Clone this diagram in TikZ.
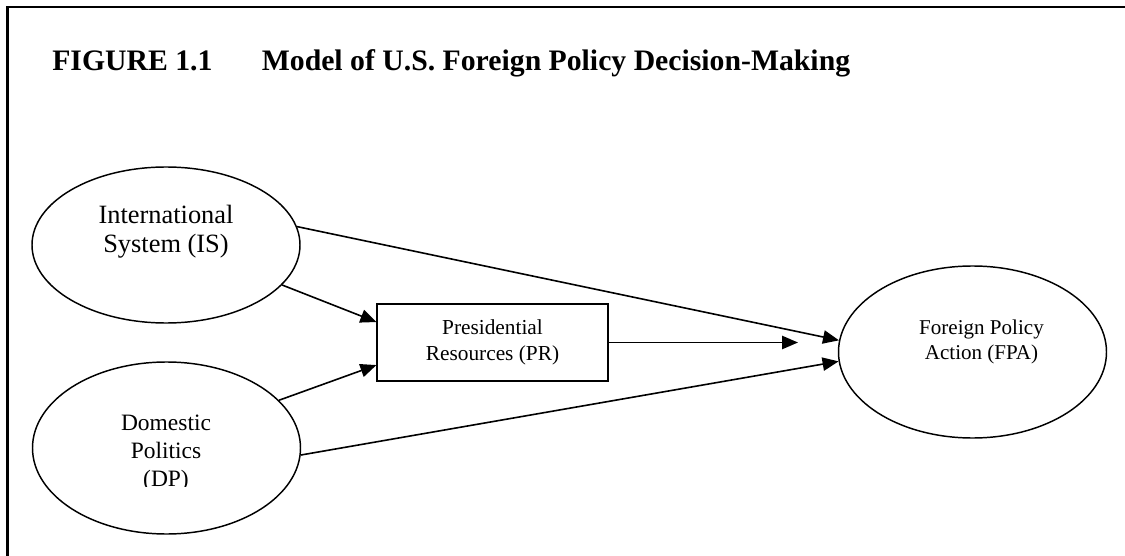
\documentclass[tikz,border=0pt]{standalone}
\usepackage{fontspec}
\setmainfont{Liberation Serif}
\usetikzlibrary{shapes.geometric, arrows.meta, positioning}

\begin{document}
\begin{tikzpicture}[
    x=0.75pt, y=-0.75pt,
    oval/.style={draw, ellipse, line width=1.1pt, minimum width=201pt, inner sep=0pt},
    box/.style={draw, rectangle, line width=1.1pt, minimum width=173pt, minimum height=58pt, inner sep=0pt, align=center, font=\fontsize{16pt}{19.5pt}\selectfont},
    txt/.style={align=center, inner sep=0pt},
    arrow/.style={-{Triangle[length=12pt, width=10pt]}, line width=1.2pt}
]
    \useasboundingbox (0,0) rectangle (1125,556);
    \draw[line width=1.6pt] (7.5,556) -- (7.5,7) -- (1125,7);

    \node[anchor=base west, inner sep=0pt, font=\bfseries\fontsize{22.3pt}{26pt}\selectfont] (title) at (52,71) {FIGURE 1.1\hspace{37pt}Model of U.S. Foreign Policy Decision-Making};

    \node[oval, minimum height=117pt] (is) at (166,245) {};
    \node[oval, minimum height=129pt] (dp) at (166.5,448) {};
    \node[oval, minimum height=129pt] (fpa) at (972.5,352) {};
    \node[box] (pr) at (492.5,342.5) {Presidential\\Resources (PR)};

    \node[txt, font=\fontsize{19.8pt}{21.75pt}\selectfont] (is-text) at (166,232) {International\\System (IS)};
    \node[txt, font=\fontsize{15.8pt}{18.75pt}\selectfont] (fpa-text) at (981.5,341.5) {Foreign Policy\\Action (FPA)};
    \begin{scope}
        \clip (0,0) rectangle (1125,486);
        \node[txt, font=\fontsize{17.6pt}{21pt}\selectfont] (dp-text) at (166,453.5) {Domestic\\Politics\\(DP)};
    \end{scope}

    \coordinate (pr-tip) at (798,342.5);
    \draw[arrow] (is.8) -- (fpa.175);
    \draw[arrow] (dp.-3) -- (fpa.184);
    \draw[arrow] (is.-19) -- (pr.170);
    \draw[arrow] (dp.23) -- (pr.191);
    \draw[arrow] (pr.east) -- (pr-tip);
\end{tikzpicture}
\end{document}
